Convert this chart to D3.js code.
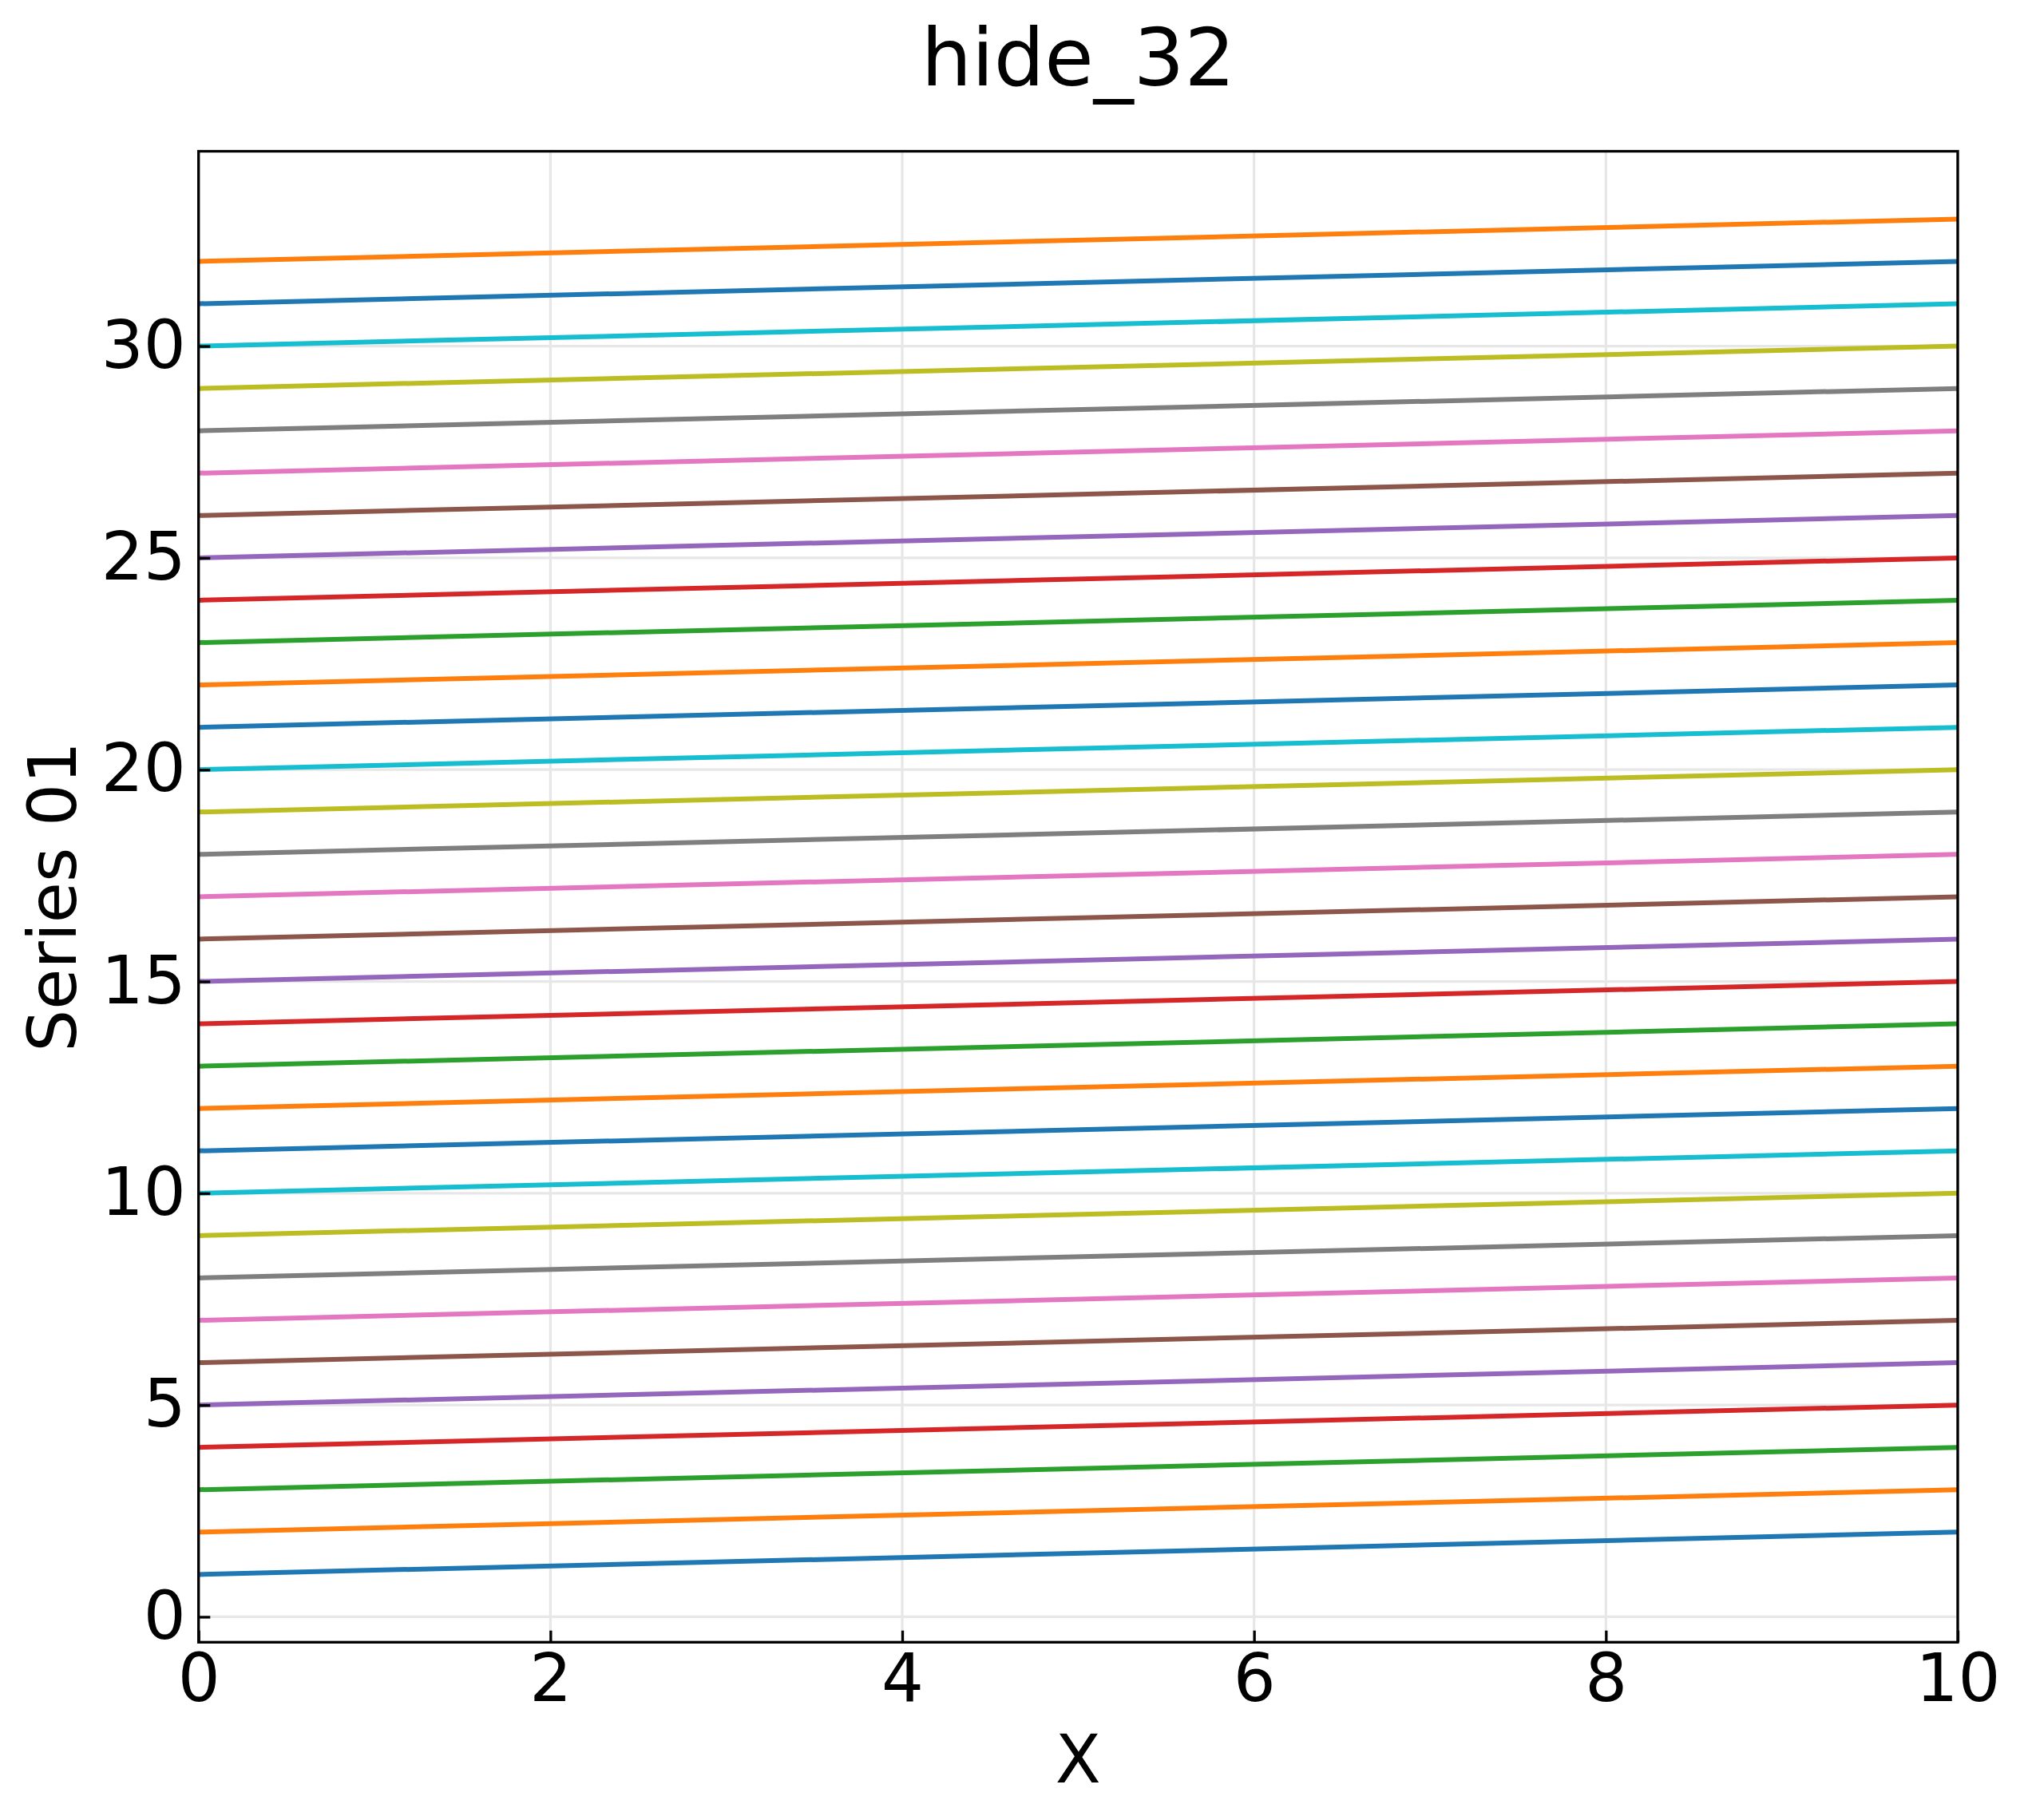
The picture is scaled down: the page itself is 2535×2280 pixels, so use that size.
<!DOCTYPE html>
<html>
<head>
<meta charset="utf-8">
<script src="https://cdn.jsdelivr.net/npm/d3@7"></script>
<style>
  body { margin: 0; background: #fff; }
  svg { display: block; font-family: "DejaVu Sans", sans-serif; }
</style>
</head>
<body>
<div id="chart"></div>
<script>
// --- Data ---
const xValues = [0, 10];
const seriesNames = [
  "Series 01", "Series 02", "Series 03", "Series 04", "Series 05", "Series 06", "Series 07", "Series 08",
  "Series 09", "Series 10", "Series 11", "Series 12", "Series 13", "Series 14", "Series 15", "Series 16",
  "Series 17", "Series 18", "Series 19", "Series 20", "Series 21", "Series 22", "Series 23", "Series 24",
  "Series 25", "Series 26", "Series 27", "Series 28", "Series 29", "Series 30", "Series 31", "Series 32"
];
// value of each series at x = 0 and at x = 10
const startValues = [1, 2, 3, 4, 5, 6, 7, 8, 9, 10, 11, 12, 13, 14, 15, 16,
                     17, 18, 19, 20, 21, 22, 23, 24, 25, 26, 27, 28, 29, 30, 31, 32];
const endValues = [2, 3, 4, 5, 6, 7, 8, 9, 10, 11, 12, 13, 14, 15, 16, 17,
                   18, 19, 20, 21, 22, 23, 24, 25, 26, 27, 28, 29, 30, 31, 32, 33];
const xTicks = [0, 2, 4, 6, 8, 10];
const yTicks = [0, 5, 10, 15, 20, 25, 30];
const titleText = "hide_32";
const xLabel = "X";
const yLabel = "Series 01";

const palette = ["#1f77b4", "#ff7f0e", "#2ca02c", "#d62728", "#9467bd",
                 "#8c564b", "#e377c2", "#7f7f7f", "#bcbd22", "#17becf"];

// --- Layout ---
const W = 2535, H = 2280;
const margin = { top: 189.5, right: 83, bottom: 222.7, left: 248.7 };
const innerW = W - margin.left - margin.right;
const innerH = H - margin.top - margin.bottom;
const tickLen = 14.6;
const fontSize = 83.3;

const svg = d3.select("#chart").append("svg")
    .attr("width", W)
    .attr("height", H);

svg.append("rect").attr("width", W).attr("height", H).attr("fill", "#fff");

const g = svg.append("g").attr("transform", `translate(${margin.left},${margin.top})`);

// scales (matplotlib style 5% margin on y)
const yMin = d3.min(startValues), yMax = d3.max(endValues);
const pad = (yMax - yMin) * 0.05;
const x = d3.scaleLinear().domain([0, 10]).range([0, innerW]);
const y = d3.scaleLinear().domain([yMin - pad, yMax + pad]).range([innerH, 0]);

// grid
g.append("g").selectAll("line").data(xTicks).join("line")
    .attr("x1", d => x(d)).attr("x2", d => x(d))
    .attr("y1", 0).attr("y2", innerH)
    .attr("stroke", "#e7e7e7").attr("stroke-width", 3.3);
g.append("g").selectAll("line").data(yTicks).join("line")
    .attr("x1", 0).attr("x2", innerW)
    .attr("y1", d => y(d)).attr("y2", d => y(d))
    .attr("stroke", "#e7e7e7").attr("stroke-width", 3.3);

// series lines
const series = seriesNames.map((name, i) => ({
    name,
    points: xValues.map((xv, j) => [xv, j === 0 ? startValues[i] : endValues[i]])
}));

const line = d3.line().x(d => x(d[0])).y(d => y(d[1]));

g.append("g").selectAll("path").data(series).join("path")
    .attr("d", d => line(d.points))
    .attr("fill", "none")
    .attr("stroke", (d, i) => palette[i % palette.length])
    .attr("stroke-width", 6);

// axes (ticks pointing inward)
const xAxis = g.append("g")
    .attr("transform", `translate(0,${innerH})`)
    .call(d3.axisBottom(x).tickValues(xTicks).tickSize(-tickLen).tickPadding(tickLen).tickFormat(d3.format("d")));
const yAxis = g.append("g")
    .call(d3.axisLeft(y).tickValues(yTicks).tickSize(-tickLen).tickPadding(16).tickFormat(d3.format("d")));

[xAxis, yAxis].forEach(a => {
    a.select(".domain").remove();
    a.selectAll(".tick line").attr("stroke", "#000").attr("stroke-width", 3.3);
    a.selectAll(".tick text")
        .attr("fill", "#000")
        .style("font-family", "'DejaVu Sans', sans-serif")
        .style("font-size", fontSize + "px");
});

// spines
g.append("rect")
    .attr("width", innerW).attr("height", innerH)
    .attr("fill", "none").attr("stroke", "#000").attr("stroke-width", 3.3);

// title and labels
svg.append("text")
    .attr("x", margin.left + innerW / 2).attr("y", 107)
    .attr("text-anchor", "middle")
    .style("font-size", "100px")
    .text(titleText);

svg.append("text")
    .attr("x", margin.left + innerW / 2).attr("y", 2233)
    .attr("text-anchor", "middle")
    .style("font-size", fontSize + "px")
    .text(xLabel);

svg.append("text")
    .attr("transform", `translate(95,${margin.top + innerH / 2}) rotate(-90)`)
    .attr("text-anchor", "middle")
    .style("font-size", fontSize + "px")
    .text(yLabel);
</script>
</body>
</html>
